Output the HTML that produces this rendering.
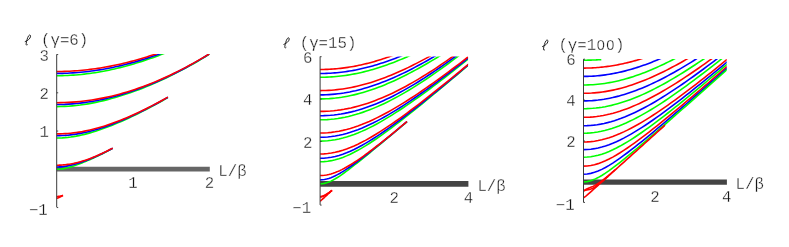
<!DOCTYPE html>
<html><head><meta charset="utf-8"><title>plot</title>
<style>html,body{margin:0;padding:0;background:#fff}svg{display:block}text{filter:grayscale(1);font-family:"Liberation Mono",monospace;font-size:15.75px;fill:#161616;stroke:#fff;stroke-width:0.32px}</style></head>
<body>
<svg width="789" height="247" viewBox="0 0 789 247">
<rect width="789" height="247" fill="#fff"/>
<clipPath id="c1"><rect x="54.70" y="54.05" width="154.80" height="163.05"/></clipPath>
<g>
<line x1="56.70" y1="169.15" x2="209.80" y2="169.15" stroke="#666666" stroke-width="4.90"/>
<g clip-path="url(#c1)" fill="none" stroke-width="1.60">
<path d="M56.70 75.70 L59.45 75.68 L62.20 75.64 L64.94 75.56 L67.69 75.45 L70.44 75.31 L73.19 75.14 L75.93 74.94 L78.68 74.70 L81.43 74.44 L84.17 74.15 L86.92 73.82 L89.67 73.47 L92.42 73.08 L95.16 72.67 L97.91 72.22 L100.66 71.75 L103.41 71.25 L106.16 70.72 L108.90 70.16 L111.65 69.57 L114.40 68.96 L117.14 68.32 L119.89 67.65 L122.64 66.95 L125.39 66.23 L128.13 65.48 L130.88 64.71 L133.63 63.91 L136.38 63.09 L139.12 62.24 L141.87 61.37 L144.62 60.47 L147.37 59.55 L150.12 58.61 L152.86 57.65 L155.61 56.66 L158.36 55.65 L161.11 54.62 L163.85 53.57 L166.60 52.50" stroke="#00ff00"/>
<path d="M56.70 73.40 L59.37 73.39 L62.04 73.34 L64.70 73.28 L67.37 73.18 L70.04 73.05 L72.71 72.90 L75.37 72.72 L78.04 72.52 L80.71 72.28 L83.38 72.02 L86.04 71.73 L88.71 71.42 L91.38 71.08 L94.05 70.71 L96.71 70.31 L99.38 69.89 L102.05 69.45 L104.72 68.97 L107.38 68.48 L110.05 67.95 L112.72 67.41 L115.39 66.83 L118.05 66.24 L120.72 65.61 L123.39 64.97 L126.06 64.30 L128.72 63.61 L131.39 62.89 L134.06 62.15 L136.73 61.39 L139.39 60.61 L142.06 59.80 L144.73 58.97 L147.40 58.12 L150.06 57.26 L152.73 56.36 L155.40 55.45 L158.06 54.52 L160.73 53.57 L163.40 52.60" stroke="#0000ff"/>
<path d="M56.70 71.50 L59.27 71.49 L61.84 71.45 L64.42 71.39 L66.99 71.30 L69.56 71.19 L72.14 71.05 L74.71 70.89 L77.28 70.71 L79.85 70.50 L82.42 70.26 L85.00 70.00 L87.57 69.72 L90.14 69.41 L92.72 69.08 L95.29 68.73 L97.86 68.35 L100.43 67.95 L103.00 67.52 L105.58 67.07 L108.15 66.60 L110.72 66.11 L113.30 65.59 L115.87 65.05 L118.44 64.49 L121.01 63.91 L123.58 63.30 L126.16 62.67 L128.73 62.03 L131.30 61.36 L133.88 60.67 L136.45 59.96 L139.02 59.23 L141.59 58.48 L144.16 57.71 L146.74 56.92 L149.31 56.11 L151.88 55.28 L154.45 54.43 L157.03 53.57 L159.60 52.68" stroke="#ff0000"/>
<path d="M56.70 106.60 L60.61 106.56 L64.52 106.42 L68.42 106.20 L72.33 105.89 L76.24 105.50 L80.15 105.03 L84.05 104.47 L87.96 103.84 L91.87 103.14 L95.78 102.36 L99.68 101.52 L103.59 100.60 L107.50 99.63 L111.41 98.59 L115.31 97.48 L119.22 96.32 L123.13 95.10 L127.04 93.82 L130.94 92.48 L134.85 91.09 L138.76 89.64 L142.67 88.14 L146.57 86.58 L150.48 84.96 L154.39 83.29 L158.30 81.57 L162.20 79.79 L166.11 77.96 L170.02 76.08 L173.93 74.14 L177.83 72.15 L181.74 70.11 L185.65 68.02 L189.56 65.88 L193.46 63.68 L197.37 61.44 L201.28 59.14 L205.19 56.80 L209.09 54.41 L213.00 51.97" stroke="#00ff00"/>
<path d="M56.70 104.50 L60.61 104.46 L64.52 104.35 L68.42 104.15 L72.33 103.88 L76.24 103.54 L80.15 103.12 L84.05 102.63 L87.96 102.07 L91.87 101.44 L95.78 100.74 L99.68 99.97 L103.59 99.14 L107.50 98.24 L111.41 97.28 L115.31 96.25 L119.22 95.16 L123.13 94.01 L127.04 92.80 L130.94 91.53 L134.85 90.20 L138.76 88.81 L142.67 87.36 L146.57 85.85 L150.48 84.29 L154.39 82.67 L158.30 80.99 L162.20 79.25 L166.11 77.46 L170.02 75.61 L173.93 73.71 L177.83 71.75 L181.74 69.74 L185.65 67.67 L189.56 65.55 L193.46 63.38 L197.37 61.16 L201.28 58.89 L205.19 56.56 L209.09 54.19 L213.00 51.76" stroke="#0000ff"/>
<path d="M56.70 102.70 L60.61 102.67 L64.52 102.57 L68.42 102.40 L72.33 102.16 L76.24 101.86 L80.15 101.49 L84.05 101.06 L87.96 100.55 L91.87 99.99 L95.78 99.35 L99.68 98.65 L103.59 97.88 L107.50 97.05 L111.41 96.16 L115.31 95.20 L119.22 94.17 L123.13 93.08 L127.04 91.93 L130.94 90.72 L134.85 89.44 L138.76 88.10 L142.67 86.70 L146.57 85.23 L150.48 83.71 L154.39 82.13 L158.30 80.49 L162.20 78.78 L166.11 77.02 L170.02 75.21 L173.93 73.33 L177.83 71.40 L181.74 69.41 L185.65 67.37 L189.56 65.27 L193.46 63.12 L197.37 60.92 L201.28 58.66 L205.19 56.35 L209.09 53.99 L213.00 51.58" stroke="#ff0000"/>
<path d="M56.70 138.00 L59.48 137.96 L62.26 137.84 L65.04 137.65 L67.82 137.38 L70.60 137.04 L73.38 136.63 L76.16 136.16 L78.94 135.62 L81.72 135.01 L84.50 134.35 L87.28 133.64 L90.06 132.87 L92.84 132.06 L95.62 131.20 L98.40 130.29 L101.18 129.34 L103.96 128.36 L106.74 127.33 L109.52 126.27 L112.30 125.17 L115.08 124.04 L117.86 122.88 L120.64 121.69 L123.42 120.46 L126.20 119.21 L128.98 117.93 L131.76 116.62 L134.54 115.29 L137.32 113.93 L140.10 112.55 L142.88 111.14 L145.66 109.71 L148.44 108.26 L151.22 106.79 L154.00 105.29 L156.78 103.78 L159.56 102.25 L162.34 100.69 L165.12 99.13 L167.90 97.54" stroke="#00ff00"/>
<path d="M56.70 135.70 L59.48 135.67 L62.26 135.57 L65.04 135.41 L67.82 135.18 L70.60 134.89 L73.38 134.54 L76.16 134.13 L78.94 133.66 L81.72 133.14 L84.50 132.56 L87.28 131.92 L90.06 131.24 L92.84 130.51 L95.62 129.73 L98.40 128.91 L101.18 128.04 L103.96 127.13 L106.74 126.18 L109.52 125.19 L112.30 124.16 L115.08 123.10 L117.86 122.00 L120.64 120.86 L123.42 119.69 L126.20 118.49 L128.98 117.26 L131.76 116.00 L134.54 114.71 L137.32 113.39 L140.10 112.04 L142.88 110.67 L145.66 109.27 L148.44 107.85 L151.22 106.41 L154.00 104.94 L156.78 103.45 L159.56 101.94 L162.34 100.41 L165.12 98.86 L167.90 97.29" stroke="#0000ff"/>
<path d="M56.70 133.90 L59.48 133.87 L62.26 133.79 L65.04 133.65 L67.82 133.45 L70.60 133.20 L73.38 132.90 L76.16 132.54 L78.94 132.13 L81.72 131.67 L84.50 131.15 L87.28 130.58 L90.06 129.97 L92.84 129.30 L95.62 128.59 L98.40 127.83 L101.18 127.02 L103.96 126.17 L106.74 125.28 L109.52 124.35 L112.30 123.37 L115.08 122.36 L117.86 121.30 L120.64 120.21 L123.42 119.09 L126.20 117.93 L128.98 116.73 L131.76 115.51 L134.54 114.25 L137.32 112.96 L140.10 111.64 L142.88 110.30 L145.66 108.93 L148.44 107.53 L151.22 106.11 L154.00 104.66 L156.78 103.19 L159.56 101.70 L162.34 100.19 L165.12 98.65 L167.90 97.10" stroke="#ff0000"/>
<path d="M56.70 169.30 L58.10 169.27 L59.50 169.19 L60.90 169.05 L62.30 168.86 L63.70 168.62 L65.10 168.34 L66.50 168.02 L67.90 167.67 L69.30 167.28 L70.70 166.87 L72.10 166.43 L73.50 165.98 L74.90 165.50 L76.30 165.01 L77.70 164.51 L79.10 163.99 L80.50 163.45 L81.90 162.91 L83.30 162.35 L84.70 161.79 L86.10 161.21 L87.50 160.62 L88.90 160.03 L90.30 159.42 L91.70 158.80 L93.10 158.17 L94.50 157.53 L95.90 156.88 L97.30 156.22 L98.70 155.55 L100.10 154.87 L101.50 154.19 L102.90 153.49 L104.30 152.78 L105.70 152.06 L107.10 151.34 L108.50 150.60 L109.90 149.86 L111.30 149.11 L112.70 148.35" stroke="#00ff00"/>
<path d="M56.70 167.00 L58.10 166.98 L59.50 166.92 L60.90 166.83 L62.30 166.69 L63.70 166.53 L65.10 166.33 L66.50 166.10 L67.90 165.84 L69.30 165.55 L70.70 165.24 L72.10 164.90 L73.50 164.54 L74.90 164.17 L76.30 163.77 L77.70 163.35 L79.10 162.92 L80.50 162.47 L81.90 162.00 L83.30 161.51 L84.70 161.01 L86.10 160.50 L87.50 159.97 L88.90 159.42 L90.30 158.86 L91.70 158.29 L93.10 157.70 L94.50 157.10 L95.90 156.49 L97.30 155.86 L98.70 155.22 L100.10 154.57 L101.50 153.91 L102.90 153.23 L104.30 152.55 L105.70 151.85 L107.10 151.14 L108.50 150.42 L109.90 149.69 L111.30 148.96 L112.70 148.21" stroke="#0000ff"/>
<path d="M56.70 165.20 L58.10 165.19 L59.50 165.15 L60.90 165.09 L62.30 165.00 L63.70 164.89 L65.10 164.75 L66.50 164.59 L67.90 164.40 L69.30 164.19 L70.70 163.96 L72.10 163.70 L73.50 163.42 L74.90 163.12 L76.30 162.79 L77.70 162.45 L79.10 162.08 L80.50 161.69 L81.90 161.28 L83.30 160.85 L84.70 160.41 L86.10 159.94 L87.50 159.45 L88.90 158.95 L90.30 158.43 L91.70 157.89 L93.10 157.34 L94.50 156.77 L95.90 156.18 L97.30 155.58 L98.70 154.96 L100.10 154.33 L101.50 153.69 L102.90 153.03 L104.30 152.36 L105.70 151.68 L107.10 150.99 L108.50 150.28 L109.90 149.57 L111.30 148.84 L112.70 148.10" stroke="#ff0000"/>
<path d="M56.70 196.50 L56.86 196.50 L57.02 196.50 L57.17 196.49 L57.33 196.49 L57.49 196.48 L57.65 196.47 L57.80 196.46 L57.96 196.45 L58.12 196.44 L58.28 196.42 L58.43 196.41 L58.59 196.39 L58.75 196.37 L58.91 196.35 L59.06 196.33 L59.22 196.31 L59.38 196.28 L59.54 196.26 L59.69 196.23 L59.85 196.20 L60.01 196.17 L60.16 196.14 L60.32 196.11 L60.48 196.07 L60.64 196.04 L60.80 196.00 L60.95 195.96 L61.11 195.92 L61.27 195.88 L61.42 195.84 L61.58 195.79 L61.74 195.75 L61.90 195.70 L62.05 195.66 L62.21 195.61 L62.37 195.56 L62.53 195.51 L62.69 195.46 L62.84 195.40 L63.00 195.35" stroke="#ff0000"/>
<path d="M56.70 198.20 L56.86 198.20 L57.02 198.18 L57.17 198.16 L57.33 198.13 L57.49 198.09 L57.65 198.05 L57.80 198.00 L57.96 197.94 L58.12 197.89 L58.28 197.83 L58.43 197.76 L58.59 197.69 L58.75 197.63 L58.91 197.56 L59.06 197.48 L59.22 197.41 L59.38 197.34 L59.54 197.26 L59.69 197.19 L59.85 197.11 L60.01 197.03 L60.16 196.96 L60.32 196.88 L60.48 196.80 L60.64 196.72 L60.80 196.64 L60.95 196.56 L61.11 196.48 L61.27 196.40 L61.42 196.32 L61.58 196.24 L61.74 196.16 L61.90 196.07 L62.05 195.99 L62.21 195.91 L62.37 195.83 L62.53 195.75 L62.69 195.66 L62.84 195.58 L63.00 195.50" stroke="#ff0000"/>
</g>
<line x1="56.70" y1="54.40" x2="56.70" y2="207.10" stroke="#3a3a3a" stroke-width="1"/>
<line x1="56.70" y1="54.55" x2="58.20" y2="54.55" stroke="#333" stroke-width="0.9"/>
<text x="49.00" y="60.65" text-anchor="end">3</text>
<line x1="56.70" y1="92.80" x2="58.20" y2="92.80" stroke="#333" stroke-width="0.9"/>
<text x="49.00" y="98.90" text-anchor="end">2</text>
<line x1="56.70" y1="131.05" x2="58.20" y2="131.05" stroke="#333" stroke-width="0.9"/>
<text x="49.00" y="137.15" text-anchor="end">1</text>
<line x1="56.70" y1="207.55" x2="58.20" y2="207.55" stroke="#333" stroke-width="0.9"/>
<text x="47.80" y="215.05" text-anchor="end">−1</text>
<text x="133.05" y="188.00" text-anchor="middle">1</text>
<text x="209.40" y="188.00" text-anchor="middle">2</text>
<text x="218.30" y="176.20">L/β</text>
<text x="41.03" y="45.10">(γ=6)</text>
<path transform="translate(24.73 45.20) scale(0.93 1)" d="M0.1 -3.5C2.6 -4.3 6.2 -6.4 6.3 -9C6.3 -10.4 5.1 -10.6 4.2 -9.4C3 -7.8 1.8 -3.8 1.5 -1.3C1.4 0 2.2 0.3 3.1 -0.7" fill="none" stroke="#1a1a1a" stroke-width="1"/>
</g>
<clipPath id="c2"><rect x="318.10" y="56.40" width="149.95" height="158.50"/></clipPath>
<g>
<line x1="320.10" y1="183.90" x2="468.40" y2="183.90" stroke="#444444" stroke-width="5.70"/>
<g clip-path="url(#c2)" fill="none" stroke-width="1.60">
<path d="M320.10 77.30 L322.40 77.28 L324.70 77.24 L326.99 77.16 L329.29 77.05 L331.59 76.92 L333.88 76.75 L336.18 76.55 L338.48 76.32 L340.78 76.06 L343.08 75.77 L345.37 75.45 L347.67 75.11 L349.97 74.73 L352.27 74.32 L354.56 73.89 L356.86 73.42 L359.16 72.93 L361.46 72.41 L363.75 71.86 L366.05 71.29 L368.35 70.69 L370.65 70.06 L372.94 69.40 L375.24 68.72 L377.54 68.01 L379.84 67.28 L382.13 66.52 L384.43 65.74 L386.73 64.94 L389.03 64.11 L391.32 63.25 L393.62 62.38 L395.92 61.48 L398.22 60.56 L400.51 59.62 L402.81 58.65 L405.11 57.67 L407.41 56.66 L409.70 55.64 L412.00 54.59" stroke="#00ff00"/>
<path d="M320.10 73.50 L322.20 73.49 L324.30 73.45 L326.40 73.39 L328.50 73.30 L330.60 73.19 L332.70 73.05 L334.80 72.89 L336.90 72.70 L339.00 72.49 L341.10 72.26 L343.20 72.00 L345.30 71.71 L347.40 71.40 L349.50 71.07 L351.60 70.72 L353.70 70.34 L355.80 69.93 L357.90 69.51 L360.00 69.06 L362.10 68.59 L364.20 68.09 L366.30 67.58 L368.40 67.04 L370.50 66.48 L372.60 65.90 L374.70 65.29 L376.80 64.67 L378.90 64.02 L381.00 63.36 L383.10 62.67 L385.20 61.96 L387.30 61.24 L389.40 60.49 L391.50 59.73 L393.60 58.94 L395.70 58.14 L397.80 57.32 L399.90 56.48 L402.00 55.62 L404.10 54.75" stroke="#0000ff"/>
<path d="M320.10 69.50 L321.95 69.49 L323.81 69.46 L325.66 69.41 L327.51 69.35 L329.36 69.26 L331.22 69.16 L333.07 69.03 L334.92 68.89 L336.77 68.73 L338.62 68.55 L340.48 68.35 L342.33 68.13 L344.18 67.89 L346.04 67.64 L347.89 67.36 L349.74 67.07 L351.59 66.76 L353.44 66.43 L355.30 66.09 L357.15 65.72 L359.00 65.34 L360.86 64.94 L362.71 64.53 L364.56 64.09 L366.41 63.64 L368.26 63.17 L370.12 62.69 L371.97 62.19 L373.82 61.67 L375.68 61.14 L377.53 60.58 L379.38 60.02 L381.23 59.44 L383.08 58.84 L384.94 58.22 L386.79 57.60 L388.64 56.95 L390.50 56.29 L392.35 55.62 L394.20 54.93" stroke="#ff0000"/>
<path d="M320.10 98.90 L323.17 98.87 L326.24 98.77 L329.31 98.60 L332.38 98.36 L335.45 98.06 L338.52 97.69 L341.59 97.26 L344.66 96.76 L347.73 96.20 L350.80 95.57 L353.87 94.89 L356.94 94.14 L360.01 93.33 L363.08 92.47 L366.15 91.55 L369.22 90.57 L372.29 89.54 L375.36 88.45 L378.43 87.31 L381.50 86.13 L384.57 84.89 L387.64 83.61 L390.71 82.28 L393.78 80.90 L396.85 79.48 L399.92 78.03 L402.99 76.53 L406.06 74.99 L409.13 73.41 L412.20 71.80 L415.27 70.15 L418.34 68.46 L421.41 66.75 L424.48 65.00 L427.55 63.22 L430.62 61.41 L433.69 59.58 L436.76 57.71 L439.83 55.82 L442.90 53.91" stroke="#00ff00"/>
<path d="M320.10 94.90 L323.06 94.87 L326.02 94.78 L328.97 94.63 L331.93 94.42 L334.89 94.15 L337.85 93.82 L340.80 93.44 L343.76 93.00 L346.72 92.49 L349.68 91.94 L352.63 91.32 L355.59 90.66 L358.55 89.93 L361.50 89.16 L364.46 88.33 L367.42 87.45 L370.38 86.53 L373.34 85.55 L376.29 84.53 L379.25 83.46 L382.21 82.34 L385.16 81.18 L388.12 79.98 L391.08 78.73 L394.04 77.44 L397.00 76.12 L399.95 74.76 L402.91 73.35 L405.87 71.92 L408.82 70.44 L411.78 68.94 L414.74 67.40 L417.70 65.83 L420.65 64.22 L423.61 62.59 L426.57 60.93 L429.53 59.24 L432.49 57.53 L435.44 55.78 L438.40 54.02" stroke="#0000ff"/>
<path d="M320.10 90.60 L322.94 90.57 L325.77 90.50 L328.61 90.36 L331.44 90.18 L334.28 89.95 L337.11 89.66 L339.95 89.33 L342.78 88.94 L345.62 88.50 L348.45 88.01 L351.29 87.48 L354.12 86.89 L356.96 86.26 L359.79 85.58 L362.62 84.85 L365.46 84.08 L368.30 83.26 L371.13 82.40 L373.97 81.50 L376.80 80.55 L379.63 79.56 L382.47 78.54 L385.31 77.47 L388.14 76.36 L390.98 75.22 L393.81 74.04 L396.64 72.82 L399.48 71.57 L402.31 70.28 L405.15 68.96 L407.99 67.61 L410.82 66.23 L413.65 64.82 L416.49 63.38 L419.32 61.90 L422.16 60.41 L425.00 58.88 L427.83 57.33 L430.67 55.75 L433.50 54.15" stroke="#ff0000"/>
<path d="M320.10 119.80 L323.65 119.75 L327.19 119.59 L330.74 119.32 L334.28 118.95 L337.83 118.48 L341.37 117.90 L344.92 117.22 L348.46 116.44 L352.00 115.56 L355.55 114.59 L359.10 113.53 L362.64 112.37 L366.19 111.12 L369.73 109.79 L373.27 108.37 L376.82 106.88 L380.37 105.30 L383.91 103.66 L387.45 101.93 L391.00 100.14 L394.55 98.28 L398.09 96.36 L401.63 94.38 L405.18 92.33 L408.73 90.23 L412.27 88.08 L415.81 85.87 L419.36 83.61 L422.90 81.31 L426.45 78.96 L430.00 76.56 L433.54 74.13 L437.08 71.65 L440.63 69.14 L444.17 66.59 L447.72 64.00 L451.26 61.39 L454.81 58.73 L458.36 56.05 L461.90 53.34" stroke="#00ff00"/>
<path d="M320.10 115.70 L323.58 115.65 L327.06 115.51 L330.55 115.27 L334.03 114.93 L337.51 114.50 L341.00 113.98 L344.48 113.36 L347.96 112.65 L351.44 111.85 L354.93 110.96 L358.41 109.99 L361.89 108.93 L365.37 107.79 L368.86 106.57 L372.34 105.27 L375.82 103.89 L379.30 102.44 L382.79 100.92 L386.27 99.32 L389.75 97.66 L393.23 95.93 L396.72 94.14 L400.20 92.29 L403.68 90.38 L407.16 88.42 L410.64 86.40 L414.13 84.32 L417.61 82.20 L421.09 80.03 L424.57 77.81 L428.06 75.54 L431.54 73.24 L435.02 70.89 L438.50 68.50 L441.99 66.07 L445.47 63.61 L448.95 61.11 L452.43 58.58 L455.92 56.02 L459.40 53.42" stroke="#0000ff"/>
<path d="M320.10 111.40 L323.52 111.36 L326.94 111.23 L330.36 111.01 L333.78 110.71 L337.20 110.32 L340.62 109.85 L344.04 109.29 L347.46 108.65 L350.88 107.93 L354.30 107.13 L357.72 106.25 L361.14 105.29 L364.56 104.25 L367.98 103.14 L371.40 101.95 L374.82 100.70 L378.24 99.37 L381.66 97.97 L385.08 96.51 L388.50 94.99 L391.92 93.40 L395.34 91.74 L398.76 90.03 L402.18 88.27 L405.60 86.44 L409.02 84.57 L412.44 82.64 L415.86 80.65 L419.28 78.63 L422.70 76.55 L426.12 74.43 L429.54 72.26 L432.96 70.05 L436.38 67.80 L439.80 65.51 L443.22 63.18 L446.64 60.82 L450.06 58.42 L453.48 55.98 L456.90 53.52" stroke="#ff0000"/>
<path d="M320.10 141.10 L323.88 141.01 L327.66 140.76 L331.43 140.33 L335.21 139.74 L338.99 138.98 L342.77 138.07 L346.54 137.00 L350.32 135.80 L354.10 134.45 L357.88 132.98 L361.65 131.38 L365.43 129.67 L369.21 127.85 L372.99 125.94 L376.76 123.92 L380.54 121.83 L384.32 119.65 L388.10 117.40 L391.87 115.07 L395.65 112.69 L399.43 110.24 L403.20 107.74 L406.98 105.19 L410.76 102.59 L414.54 99.95 L418.31 97.27 L422.09 94.54 L425.87 91.79 L429.65 89.00 L433.43 86.18 L437.20 83.33 L440.98 80.46 L444.76 77.56 L448.53 74.63 L452.31 71.69 L456.09 68.73 L459.87 65.74 L463.64 62.74 L467.42 59.72 L471.20 56.69" stroke="#00ff00"/>
<path d="M320.10 137.30 L323.88 137.22 L327.66 136.98 L331.43 136.58 L335.21 136.03 L338.99 135.32 L342.77 134.47 L346.54 133.48 L350.32 132.34 L354.10 131.08 L357.88 129.69 L361.65 128.18 L365.43 126.56 L369.21 124.84 L372.99 123.02 L376.76 121.10 L380.54 119.10 L384.32 117.01 L388.10 114.85 L391.87 112.62 L395.65 110.32 L399.43 107.96 L403.20 105.55 L406.98 103.08 L410.76 100.56 L414.54 97.99 L418.31 95.39 L422.09 92.74 L425.87 90.05 L429.65 87.33 L433.43 84.57 L437.20 81.79 L440.98 78.98 L444.76 76.13 L448.53 73.27 L452.31 70.38 L456.09 67.47 L459.87 64.54 L463.64 61.58 L467.42 58.61 L471.20 55.63" stroke="#0000ff"/>
<path d="M320.10 133.00 L323.88 132.93 L327.66 132.71 L331.43 132.34 L335.21 131.83 L338.99 131.18 L342.77 130.39 L346.54 129.47 L350.32 128.42 L354.10 127.24 L357.88 125.95 L361.65 124.54 L365.43 123.03 L369.21 121.41 L372.99 119.69 L376.76 117.89 L380.54 115.99 L384.32 114.02 L388.10 111.97 L391.87 109.84 L395.65 107.65 L399.43 105.40 L403.20 103.08 L406.98 100.71 L410.76 98.29 L414.54 95.82 L418.31 93.30 L422.09 90.74 L425.87 88.14 L429.65 85.51 L433.43 82.83 L437.20 80.13 L440.98 77.39 L444.76 74.62 L448.53 71.83 L452.31 69.01 L456.09 66.17 L459.87 63.30 L463.64 60.41 L467.42 57.50 L471.20 54.57" stroke="#ff0000"/>
<path d="M320.10 161.80 L323.88 161.67 L327.66 161.29 L331.43 160.66 L335.21 159.80 L338.99 158.70 L342.77 157.39 L346.54 155.88 L350.32 154.19 L354.10 152.33 L357.88 150.32 L361.65 148.17 L365.43 145.89 L369.21 143.51 L372.99 141.04 L376.76 138.47 L380.54 135.83 L384.32 133.13 L388.10 130.37 L391.87 127.55 L395.65 124.69 L399.43 121.79 L403.20 118.85 L406.98 115.89 L410.76 112.89 L414.54 109.87 L418.31 106.83 L422.09 103.76 L425.87 100.68 L429.65 97.58 L433.43 94.47 L437.20 91.34 L440.98 88.20 L444.76 85.05 L448.53 81.89 L452.31 78.72 L456.09 75.55 L459.87 72.36 L463.64 69.16 L467.42 65.96 L471.20 62.75" stroke="#00ff00"/>
<path d="M320.10 158.30 L323.88 158.18 L327.66 157.83 L331.43 157.25 L335.21 156.44 L338.99 155.42 L342.77 154.20 L346.54 152.79 L350.32 151.21 L354.10 149.46 L357.88 147.57 L361.65 145.55 L365.43 143.40 L369.21 141.15 L372.99 138.80 L376.76 136.36 L380.54 133.84 L384.32 131.25 L388.10 128.60 L391.87 125.89 L395.65 123.14 L399.43 120.34 L403.20 117.49 L406.98 114.61 L410.76 111.70 L414.54 108.76 L418.31 105.79 L422.09 102.80 L425.87 99.78 L429.65 96.74 L433.43 93.69 L437.20 90.62 L440.98 87.53 L444.76 84.42 L448.53 81.31 L452.31 78.18 L456.09 75.04 L459.87 71.88 L463.64 68.72 L467.42 65.55 L471.20 62.37" stroke="#0000ff"/>
<path d="M320.10 154.00 L323.88 153.89 L327.66 153.57 L331.43 153.05 L335.21 152.32 L338.99 151.39 L342.77 150.28 L346.54 148.99 L350.32 147.55 L354.10 145.94 L357.88 144.20 L361.65 142.33 L365.43 140.34 L369.21 138.24 L372.99 136.05 L376.76 133.76 L380.54 131.39 L384.32 128.95 L388.10 126.43 L391.87 123.86 L395.65 121.23 L399.43 118.55 L403.20 115.82 L406.98 113.05 L410.76 110.24 L414.54 107.40 L418.31 104.52 L422.09 101.61 L425.87 98.67 L429.65 95.71 L433.43 92.73 L437.20 89.72 L440.98 86.69 L444.76 83.65 L448.53 80.58 L452.31 77.50 L456.09 74.41 L459.87 71.30 L463.64 68.18 L467.42 65.05 L471.20 61.90" stroke="#ff0000"/>
<path d="M320.10 183.85 L322.27 183.73 L324.45 183.39 L326.62 182.83 L328.79 182.06 L330.96 181.12 L333.13 180.03 L335.31 178.80 L337.48 177.47 L339.65 176.05 L341.83 174.55 L344.00 173.00 L346.17 171.41 L348.34 169.78 L350.51 168.12 L352.69 166.44 L354.86 164.73 L357.03 163.02 L359.21 161.29 L361.38 159.55 L363.55 157.80 L365.72 156.05 L367.89 154.29 L370.07 152.52 L372.24 150.74 L374.41 148.96 L376.58 147.17 L378.76 145.38 L380.93 143.58 L383.10 141.78 L385.27 139.98 L387.45 138.17 L389.62 136.35 L391.79 134.53 L393.97 132.71 L396.14 130.88 L398.31 129.05 L400.48 127.22 L402.65 125.38 L404.83 123.54 L407.00 121.69" stroke="#00ff00"/>
<path d="M320.10 179.85 L322.27 179.76 L324.45 179.49 L326.62 179.04 L328.79 178.43 L330.96 177.67 L333.13 176.78 L335.31 175.77 L337.48 174.66 L339.65 173.46 L341.83 172.18 L344.00 170.84 L346.17 169.44 L348.34 168.00 L350.51 166.51 L352.69 164.98 L354.86 163.43 L357.03 161.84 L359.21 160.23 L361.38 158.60 L363.55 156.95 L365.72 155.28 L367.89 153.60 L370.07 151.90 L372.24 150.19 L374.41 148.47 L376.58 146.73 L378.76 144.99 L380.93 143.23 L383.10 141.47 L385.27 139.69 L387.45 137.91 L389.62 136.12 L391.79 134.33 L393.97 132.53 L396.14 130.72 L398.31 128.91 L400.48 127.09 L402.65 125.26 L404.83 123.43 L407.00 121.60" stroke="#0000ff"/>
<path d="M320.10 175.50 L322.27 175.44 L324.45 175.24 L326.62 174.92 L328.79 174.48 L330.96 173.92 L333.13 173.25 L335.31 172.48 L337.48 171.61 L339.65 170.65 L341.83 169.61 L344.00 168.49 L346.17 167.30 L348.34 166.06 L350.51 164.76 L352.69 163.40 L354.86 162.00 L357.03 160.56 L359.21 159.08 L361.38 157.57 L363.55 156.03 L365.72 154.45 L367.89 152.86 L370.07 151.24 L372.24 149.59 L374.41 147.93 L376.58 146.25 L378.76 144.56 L380.93 142.85 L383.10 141.12 L385.27 139.39 L387.45 137.64 L389.62 135.88 L391.79 134.11 L393.97 132.33 L396.14 130.54 L398.31 128.75 L400.48 126.95 L402.65 125.14 L404.83 123.32 L407.00 121.50" stroke="#ff0000"/>
<path d="M320.10 196.50 L320.40 196.49 L320.70 196.48 L320.99 196.45 L321.29 196.41 L321.59 196.36 L321.88 196.29 L322.18 196.22 L322.48 196.14 L322.78 196.04 L323.08 195.94 L323.37 195.83 L323.67 195.71 L323.97 195.58 L324.26 195.45 L324.56 195.30 L324.86 195.15 L325.16 195.00 L325.45 194.83 L325.75 194.67 L326.05 194.49 L326.35 194.31 L326.64 194.13 L326.94 193.94 L327.24 193.75 L327.54 193.56 L327.83 193.36 L328.13 193.16 L328.43 192.95 L328.73 192.74 L329.02 192.53 L329.32 192.32 L329.62 192.10 L329.92 191.88 L330.21 191.66 L330.51 191.44 L330.81 191.21 L331.11 190.99 L331.40 190.76 L331.70 190.53 L332.00 190.30" stroke="#ff0000"/>
<path d="M320.10 197.00 L320.40 196.99 L320.70 196.97 L320.99 196.93 L321.29 196.88 L321.59 196.82 L321.88 196.74 L322.18 196.65 L322.48 196.55 L322.78 196.44 L323.08 196.31 L323.37 196.18 L323.67 196.04 L323.97 195.89 L324.26 195.74 L324.56 195.57 L324.86 195.40 L325.16 195.23 L325.45 195.05 L325.75 194.86 L326.05 194.67 L326.35 194.48 L326.64 194.28 L326.94 194.08 L327.24 193.88 L327.54 193.67 L327.83 193.46 L328.13 193.25 L328.43 193.04 L328.73 192.82 L329.02 192.60 L329.32 192.39 L329.62 192.16 L329.92 191.94 L330.21 191.72 L330.51 191.49 L330.81 191.27 L331.11 191.04 L331.40 190.81 L331.70 190.58 L332.00 190.35" stroke="#ff0000"/>
<path d="M320.10 201.00 L320.40 200.92 L320.70 200.73 L320.99 200.50 L321.29 200.24 L321.59 199.98 L321.88 199.72 L322.18 199.45 L322.48 199.18 L322.78 198.91 L323.08 198.64 L323.37 198.37 L323.67 198.09 L323.97 197.82 L324.26 197.55 L324.56 197.27 L324.86 197.00 L325.16 196.72 L325.45 196.45 L325.75 196.17 L326.05 195.90 L326.35 195.63 L326.64 195.35 L326.94 195.08 L327.24 194.80 L327.54 194.53 L327.83 194.25 L328.13 193.98 L328.43 193.70 L328.73 193.43 L329.02 193.15 L329.32 192.88 L329.62 192.60 L329.92 192.33 L330.21 192.05 L330.51 191.78 L330.81 191.50 L331.11 191.23 L331.40 190.95 L331.70 190.68 L332.00 190.40" stroke="#ff0000"/>
</g>
<line x1="320.10" y1="56.50" x2="320.10" y2="204.90" stroke="#3a3a3a" stroke-width="1"/>
<line x1="320.10" y1="56.70" x2="321.60" y2="56.70" stroke="#333" stroke-width="0.9"/>
<text x="312.40" y="62.80" text-anchor="end">6</text>
<line x1="320.10" y1="99.10" x2="321.60" y2="99.10" stroke="#333" stroke-width="0.9"/>
<text x="312.40" y="105.20" text-anchor="end">4</text>
<line x1="320.10" y1="141.50" x2="321.60" y2="141.50" stroke="#333" stroke-width="0.9"/>
<text x="312.40" y="147.60" text-anchor="end">2</text>
<line x1="320.10" y1="205.10" x2="321.60" y2="205.10" stroke="#333" stroke-width="0.9"/>
<text x="311.20" y="212.60" text-anchor="end">−1</text>
<text x="394.34" y="203.10" text-anchor="middle">2</text>
<text x="468.58" y="203.10" text-anchor="middle">4</text>
<text x="477.40" y="190.80">L/β</text>
<text x="299.70" y="47.90">(γ=15)</text>
<path transform="translate(283.40 48.00) scale(0.93 1)" d="M0.1 -3.5C2.6 -4.3 6.2 -6.4 6.3 -9C6.3 -10.4 5.1 -10.6 4.2 -9.4C3 -7.8 1.8 -3.8 1.5 -1.3C1.4 0 2.2 0.3 3.1 -0.7" fill="none" stroke="#1a1a1a" stroke-width="1"/>
</g>
<clipPath id="c3"><rect x="581.50" y="59.10" width="145.20" height="153.30"/></clipPath>
<g>
<line x1="583.50" y1="182.15" x2="726.90" y2="182.15" stroke="#444444" stroke-width="5.30"/>
<g clip-path="url(#c3)" fill="none" stroke-width="1.60">
<path d="M583.50 60.20 L583.95 60.20 L584.39 60.20 L584.84 60.20 L585.28 60.19 L585.73 60.19 L586.17 60.19 L586.62 60.18 L587.06 60.18 L587.50 60.17 L587.95 60.16 L588.39 60.15 L588.84 60.15 L589.28 60.14 L589.73 60.13 L590.17 60.12 L590.62 60.10 L591.06 60.09 L591.51 60.08 L591.95 60.06 L592.40 60.05 L592.85 60.03 L593.29 60.02 L593.74 60.00 L594.18 59.98 L594.62 59.97 L595.07 59.95 L595.51 59.93 L595.96 59.91 L596.40 59.88 L596.85 59.86 L597.29 59.84 L597.74 59.82 L598.18 59.79 L598.63 59.77 L599.07 59.74 L599.52 59.71 L599.96 59.69 L600.41 59.66 L600.85 59.63 L601.30 59.60" stroke="#00ff00"/>
<path d="M583.50 68.10 L585.02 68.09 L586.54 68.07 L588.07 68.04 L589.59 67.99 L591.11 67.93 L592.63 67.86 L594.16 67.77 L595.68 67.68 L597.20 67.56 L598.73 67.44 L600.25 67.30 L601.77 67.15 L603.29 66.98 L604.81 66.80 L606.34 66.61 L607.86 66.41 L609.38 66.19 L610.90 65.96 L612.43 65.72 L613.95 65.46 L615.47 65.20 L617.00 64.92 L618.52 64.63 L620.04 64.32 L621.56 64.00 L623.09 63.67 L624.61 63.33 L626.13 62.98 L627.65 62.61 L629.17 62.24 L630.70 61.85 L632.22 61.45 L633.74 61.04 L635.26 60.61 L636.79 60.18 L638.31 59.73 L639.83 59.27 L641.36 58.80 L642.88 58.33 L644.40 57.83" stroke="#ff0000"/>
<path d="M583.50 76.40 L585.50 76.39 L587.49 76.35 L589.49 76.28 L591.48 76.20 L593.48 76.08 L595.47 75.94 L597.47 75.77 L599.46 75.58 L601.46 75.37 L603.45 75.13 L605.45 74.86 L607.44 74.57 L609.44 74.25 L611.43 73.91 L613.43 73.55 L615.42 73.16 L617.42 72.75 L619.41 72.32 L621.40 71.86 L623.40 71.38 L625.39 70.87 L627.39 70.35 L629.38 69.80 L631.38 69.23 L633.38 68.63 L635.37 68.02 L637.37 67.38 L639.36 66.73 L641.36 66.05 L643.35 65.36 L645.35 64.64 L647.34 63.90 L649.34 63.15 L651.33 62.38 L653.33 61.58 L655.32 60.77 L657.32 59.94 L659.31 59.10 L661.31 58.23 L663.30 57.35" stroke="#0000ff"/>
<path d="M583.50 85.00 L585.86 84.98 L588.22 84.92 L590.58 84.82 L592.94 84.69 L595.30 84.51 L597.66 84.29 L600.02 84.04 L602.38 83.75 L604.74 83.42 L607.10 83.05 L609.46 82.65 L611.82 82.20 L614.18 81.73 L616.54 81.21 L618.90 80.66 L621.26 80.07 L623.62 79.45 L625.98 78.80 L628.34 78.11 L630.70 77.39 L633.06 76.64 L635.42 75.85 L637.78 75.04 L640.14 74.19 L642.50 73.31 L644.86 72.41 L647.22 71.47 L649.58 70.51 L651.94 69.52 L654.30 68.50 L656.66 67.46 L659.02 66.39 L661.38 65.30 L663.74 64.18 L666.10 63.04 L668.46 61.87 L670.82 60.68 L673.18 59.47 L675.54 58.24 L677.90 56.99" stroke="#00ff00"/>
<path d="M583.50 93.30 L586.18 93.27 L588.87 93.19 L591.55 93.06 L594.23 92.87 L596.91 92.63 L599.60 92.34 L602.28 92.00 L604.96 91.60 L607.64 91.16 L610.33 90.66 L613.01 90.12 L615.69 89.52 L618.37 88.88 L621.06 88.19 L623.74 87.45 L626.42 86.67 L629.10 85.84 L631.79 84.97 L634.47 84.06 L637.15 83.10 L639.83 82.11 L642.52 81.07 L645.20 79.99 L647.88 78.88 L650.56 77.73 L653.25 76.55 L655.93 75.33 L658.61 74.07 L661.29 72.79 L663.98 71.47 L666.66 70.12 L669.34 68.74 L672.02 67.33 L674.71 65.90 L677.39 64.44 L680.07 62.95 L682.75 61.43 L685.44 59.89 L688.12 58.33 L690.80 56.74" stroke="#ff0000"/>
<path d="M583.50 100.90 L586.41 100.87 L589.33 100.76 L592.25 100.60 L595.16 100.36 L598.08 100.06 L600.99 99.69 L603.90 99.26 L606.82 98.76 L609.74 98.20 L612.65 97.58 L615.57 96.89 L618.48 96.15 L621.39 95.34 L624.31 94.48 L627.23 93.56 L630.14 92.59 L633.06 91.56 L635.97 90.49 L638.88 89.36 L641.80 88.18 L644.72 86.96 L647.63 85.69 L650.55 84.37 L653.46 83.01 L656.38 81.61 L659.29 80.18 L662.21 78.70 L665.12 77.18 L668.04 75.63 L670.95 74.05 L673.87 72.43 L676.78 70.77 L679.70 69.09 L682.61 67.38 L685.52 65.64 L688.44 63.87 L691.36 62.08 L694.27 60.26 L697.19 58.41 L700.10 56.54" stroke="#0000ff"/>
<path d="M583.50 108.70 L586.60 108.66 L589.71 108.53 L592.81 108.32 L595.91 108.03 L599.01 107.66 L602.12 107.20 L605.22 106.67 L608.32 106.05 L611.42 105.36 L614.52 104.59 L617.63 103.75 L620.73 102.84 L623.83 101.86 L626.94 100.81 L630.04 99.69 L633.14 98.51 L636.24 97.27 L639.35 95.97 L642.45 94.62 L645.55 93.21 L648.65 91.74 L651.75 90.23 L654.86 88.66 L657.96 87.05 L661.06 85.40 L664.16 83.70 L667.27 81.96 L670.37 80.18 L673.47 78.37 L676.58 76.52 L679.68 74.63 L682.78 72.72 L685.88 70.77 L688.99 68.79 L692.09 66.78 L695.19 64.74 L698.29 62.68 L701.39 60.60 L704.50 58.49 L707.60 56.35" stroke="#00ff00"/>
<path d="M583.50 117.30 L586.79 117.25 L590.09 117.09 L593.38 116.83 L596.68 116.47 L599.98 116.01 L603.27 115.45 L606.57 114.79 L609.86 114.03 L613.15 113.18 L616.45 112.24 L619.75 111.22 L623.04 110.11 L626.34 108.91 L629.63 107.64 L632.93 106.30 L636.22 104.88 L639.51 103.40 L642.81 101.84 L646.11 100.23 L649.40 98.55 L652.70 96.82 L655.99 95.04 L659.29 93.20 L662.58 91.31 L665.88 89.38 L669.17 87.41 L672.47 85.39 L675.76 83.33 L679.06 81.23 L682.35 79.10 L685.65 76.94 L688.94 74.74 L692.24 72.51 L695.53 70.26 L698.83 67.97 L702.12 65.66 L705.42 63.33 L708.71 60.97 L712.01 58.59 L715.30 56.19" stroke="#ff0000"/>
<path d="M583.50 125.70 L586.93 125.64 L590.36 125.44 L593.79 125.13 L597.22 124.68 L600.65 124.12 L604.08 123.43 L607.51 122.63 L610.94 121.71 L614.37 120.68 L617.80 119.55 L621.23 118.32 L624.66 116.99 L628.09 115.57 L631.52 114.07 L634.95 112.48 L638.38 110.81 L641.81 109.07 L645.24 107.25 L648.67 105.38 L652.10 103.44 L655.53 101.44 L658.96 99.39 L662.39 97.28 L665.82 95.13 L669.25 92.93 L672.68 90.69 L676.11 88.41 L679.54 86.10 L682.97 83.74 L686.40 81.36 L689.83 78.94 L693.26 76.49 L696.69 74.02 L700.12 71.51 L703.55 68.99 L706.98 66.44 L710.41 63.87 L713.84 61.28 L717.27 58.66 L720.70 56.03" stroke="#0000ff"/>
<path d="M583.50 133.20 L587.04 133.12 L590.59 132.89 L594.13 132.52 L597.68 131.99 L601.23 131.31 L604.77 130.50 L608.32 129.55 L611.86 128.47 L615.40 127.27 L618.95 125.95 L622.50 124.52 L626.04 122.98 L629.59 121.34 L633.13 119.61 L636.68 117.79 L640.22 115.88 L643.76 113.91 L647.31 111.86 L650.86 109.74 L654.40 107.57 L657.95 105.33 L661.49 103.05 L665.04 100.71 L668.58 98.33 L672.12 95.90 L675.67 93.44 L679.22 90.93 L682.76 88.40 L686.31 85.83 L689.85 83.23 L693.40 80.60 L696.94 77.94 L700.49 75.26 L704.03 72.56 L707.58 69.83 L711.12 67.09 L714.67 64.32 L718.21 61.54 L721.76 58.74 L725.30 55.92" stroke="#00ff00"/>
<path d="M583.50 142.00 L587.16 141.91 L590.82 141.64 L594.47 141.19 L598.13 140.57 L601.79 139.77 L605.44 138.82 L609.10 137.71 L612.76 136.45 L616.42 135.05 L620.08 133.53 L623.73 131.88 L627.39 130.12 L631.05 128.25 L634.70 126.29 L638.36 124.24 L642.02 122.10 L645.68 119.89 L649.34 117.60 L652.99 115.26 L656.65 112.85 L660.31 110.39 L663.96 107.88 L667.62 105.32 L671.28 102.71 L674.94 100.07 L678.60 97.40 L682.25 94.68 L685.91 91.94 L689.57 89.17 L693.22 86.37 L696.88 83.55 L700.54 80.70 L704.20 77.83 L707.85 74.94 L711.51 72.03 L715.17 69.11 L718.83 66.16 L722.48 63.21 L726.14 60.24 L729.80 57.25" stroke="#ff0000"/>
<path d="M583.50 149.60 L587.16 149.49 L590.82 149.18 L594.47 148.66 L598.13 147.94 L601.79 147.02 L605.44 145.93 L609.10 144.66 L612.76 143.23 L616.42 141.65 L620.08 139.94 L623.73 138.10 L627.39 136.15 L631.05 134.09 L634.70 131.93 L638.36 129.69 L642.02 127.37 L645.68 124.98 L649.34 122.53 L652.99 120.01 L656.65 117.44 L660.31 114.83 L663.96 112.16 L667.62 109.46 L671.28 106.72 L674.94 103.95 L678.60 101.15 L682.25 98.31 L685.91 95.45 L689.57 92.57 L693.22 89.66 L696.88 86.74 L700.54 83.79 L704.20 80.83 L707.85 77.85 L711.51 74.86 L715.17 71.85 L718.83 68.83 L722.48 65.79 L726.14 62.75 L729.80 59.69" stroke="#0000ff"/>
<path d="M583.50 157.20 L587.16 157.07 L590.82 156.70 L594.47 156.08 L598.13 155.24 L601.79 154.17 L605.44 152.89 L609.10 151.43 L612.76 149.80 L616.42 148.01 L620.08 146.08 L623.73 144.02 L627.39 141.85 L631.05 139.59 L634.70 137.23 L638.36 134.79 L642.02 132.28 L645.68 129.71 L649.34 127.07 L652.99 124.39 L656.65 121.67 L660.31 118.90 L663.96 116.09 L667.62 113.25 L671.28 110.38 L674.94 107.49 L678.60 104.56 L682.25 101.62 L685.91 98.65 L689.57 95.67 L693.22 92.67 L696.88 89.65 L700.54 86.62 L704.20 83.57 L707.85 80.51 L711.51 77.44 L715.17 74.36 L718.83 71.27 L722.48 68.17 L726.14 65.06 L729.80 61.94" stroke="#00ff00"/>
<path d="M583.50 166.10 L587.16 165.94 L590.82 165.47 L594.47 164.69 L598.13 163.64 L601.79 162.33 L605.44 160.78 L609.10 159.03 L612.76 157.10 L616.42 155.01 L620.08 152.78 L623.73 150.44 L627.39 147.99 L631.05 145.46 L634.70 142.85 L638.36 140.17 L642.02 137.44 L645.68 134.65 L649.34 131.82 L652.99 128.95 L656.65 126.05 L660.31 123.12 L663.96 120.16 L667.62 117.17 L671.28 114.16 L674.94 111.14 L678.60 108.09 L682.25 105.03 L685.91 101.96 L689.57 98.87 L693.22 95.77 L696.88 92.66 L700.54 89.54 L704.20 86.41 L707.85 83.27 L711.51 80.12 L715.17 76.97 L718.83 73.81 L722.48 70.64 L726.14 67.47 L729.80 64.29" stroke="#ff0000"/>
<path d="M583.50 174.20 L587.16 173.99 L590.82 173.37 L594.47 172.36 L598.13 171.01 L601.79 169.36 L605.44 167.46 L609.10 165.35 L612.76 163.07 L616.42 160.65 L620.08 158.10 L623.73 155.46 L627.39 152.74 L631.05 149.95 L634.70 147.10 L638.36 144.20 L642.02 141.27 L645.68 138.29 L649.34 135.29 L652.99 132.26 L656.65 129.21 L660.31 126.14 L663.96 123.05 L667.62 119.95 L671.28 116.83 L674.94 113.70 L678.60 110.56 L682.25 107.41 L685.91 104.24 L689.57 101.08 L693.22 97.90 L696.88 94.72 L700.54 91.53 L704.20 88.34 L707.85 85.14 L711.51 81.93 L715.17 78.73 L718.83 75.51 L722.48 72.30 L726.14 69.08 L729.80 65.86" stroke="#0000ff"/>
<path d="M583.50 181.90 L587.16 181.60 L590.82 180.73 L594.47 179.35 L598.13 177.57 L601.79 175.48 L605.44 173.14 L609.10 170.62 L612.76 167.95 L616.42 165.19 L620.08 162.33 L623.73 159.41 L627.39 156.44 L631.05 153.43 L634.70 150.38 L638.36 147.31 L642.02 144.21 L645.68 141.09 L649.34 137.95 L652.99 134.80 L656.65 131.64 L660.31 128.46 L663.96 125.28 L667.62 122.08 L671.28 118.88 L674.94 115.68 L678.60 112.47 L682.25 109.25 L685.91 106.03 L689.57 102.80 L693.22 99.57 L696.88 96.34 L700.54 93.10 L704.20 89.86 L707.85 86.62 L711.51 83.38 L715.17 80.13 L718.83 76.89 L722.48 73.64 L726.14 70.38 L729.80 67.13" stroke="#00ff00"/>
<path d="M583.50 190.75 L584.29 190.39 L585.08 189.87 L585.86 189.39 L586.65 188.97 L587.44 188.61 L588.23 188.28 L589.01 187.97 L589.80 187.67 L590.59 187.36 L591.38 187.05 L592.16 186.72 L592.95 186.37 L593.74 185.99 L594.52 185.60 L595.31 185.17 L596.10 184.72 L596.89 184.25 L597.67 183.76 L598.46 183.25 L599.25 182.71 L600.04 182.16 L600.83 181.60 L601.61 181.02 L602.40 180.43 L603.19 179.82 L603.98 179.20 L604.76 178.58 L605.55 177.95 L606.34 177.30 L607.12 176.66 L607.91 176.00 L608.70 175.34 L609.49 174.68 L610.27 174.01 L611.06 173.33 L611.85 172.66 L612.64 171.98 L613.42 171.29 L614.21 170.61 L615.00 169.92" stroke="#ff0000"/>
<path d="M583.50 191.05 L584.11 190.83 L584.73 190.52 L585.34 190.28 L585.95 190.10 L586.56 189.97 L587.17 189.87 L587.79 189.78 L588.40 189.69 L589.01 189.58 L589.62 189.44 L590.24 189.27 L590.85 189.07 L591.46 188.83 L592.08 188.56 L592.69 188.26 L593.30 187.94 L593.91 187.58 L594.52 187.21 L595.14 186.81 L595.75 186.40 L596.36 185.97 L596.98 185.52 L597.59 185.06 L598.20 184.59 L598.81 184.11 L599.42 183.63 L600.04 183.13 L600.65 182.63 L601.26 182.12 L601.88 181.61 L602.49 181.09 L603.10 180.57 L603.71 180.04 L604.33 179.51 L604.94 178.98 L605.55 178.45 L606.16 177.91 L606.77 177.37 L607.39 176.84 L608.00 176.30" stroke="#ff0000"/>
<path d="M583.50 197.95 L585.54 196.49 L587.58 194.68 L589.61 192.86 L591.65 191.03 L593.69 189.21 L595.73 187.38 L597.76 185.55 L599.80 183.72 L601.84 181.89 L603.88 180.07 L605.91 178.24 L607.95 176.41 L609.99 174.58 L612.02 172.75 L614.06 170.92 L616.10 169.09 L618.14 167.26 L620.17 165.44 L622.21 163.61 L624.25 161.78 L626.29 159.95 L628.33 158.12 L630.36 156.29 L632.40 154.46 L634.44 152.63 L636.48 150.80 L638.51 148.98 L640.55 147.15 L642.59 145.32 L644.62 143.49 L646.66 141.66 L648.70 139.83 L650.74 138.00 L652.77 136.17 L654.81 134.34 L656.85 132.52 L658.89 130.69 L660.92 128.86 L662.96 127.03 L665.00 125.20" stroke="#ff0000"/>
</g>
<line x1="583.50" y1="59.20" x2="583.50" y2="202.40" stroke="#3a3a3a" stroke-width="1"/>
<line x1="583.50" y1="59.19" x2="585.00" y2="59.19" stroke="#333" stroke-width="0.9"/>
<text x="575.80" y="65.29" text-anchor="end">6</text>
<line x1="583.50" y1="100.11" x2="585.00" y2="100.11" stroke="#333" stroke-width="0.9"/>
<text x="575.80" y="106.21" text-anchor="end">4</text>
<line x1="583.50" y1="141.03" x2="585.00" y2="141.03" stroke="#333" stroke-width="0.9"/>
<text x="575.80" y="147.13" text-anchor="end">2</text>
<line x1="583.50" y1="202.41" x2="585.00" y2="202.41" stroke="#333" stroke-width="0.9"/>
<text x="574.60" y="209.91" text-anchor="end">−1</text>
<text x="655.10" y="201.55" text-anchor="middle">2</text>
<text x="726.70" y="201.55" text-anchor="middle">4</text>
<text x="735.50" y="188.85">L/β</text>
<text x="558.38" y="50.10">(γ=1<tspan x="596.78 606.23" style="font-family:'Liberation Sans',sans-serif;font-size:14.6px">00</tspan><tspan x="615.08">)</tspan></text>
<path transform="translate(542.08 50.20) scale(0.93 1)" d="M0.1 -3.5C2.6 -4.3 6.2 -6.4 6.3 -9C6.3 -10.4 5.1 -10.6 4.2 -9.4C3 -7.8 1.8 -3.8 1.5 -1.3C1.4 0 2.2 0.3 3.1 -0.7" fill="none" stroke="#1a1a1a" stroke-width="1"/>
</g>
</svg>
</body></html>
